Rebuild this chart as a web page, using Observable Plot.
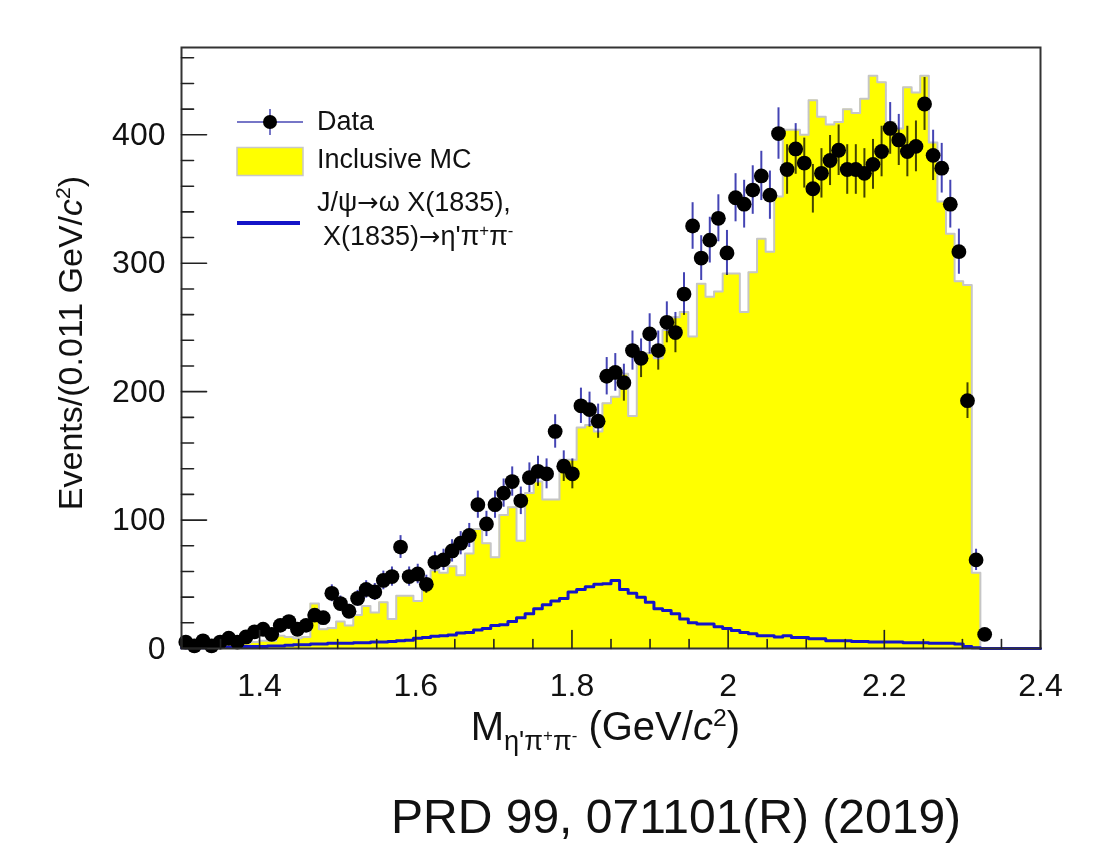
<!DOCTYPE html>
<html>
<head>
<meta charset="utf-8">
<script src="https://cdn.jsdelivr.net/npm/d3@7"></script>
<script src="https://cdn.jsdelivr.net/npm/@observablehq/plot@0.6"></script>
<style>
  html, body { margin: 0; padding: 0; background: #fff; }
  #wrap { position: relative; width: 1119px; height: 846px; overflow: hidden;
          font-family: "Liberation Sans", Arial, Helvetica, sans-serif; color: #111; }
  #chart { position: absolute; left: 0; top: 0; }
  .abs { position: absolute; white-space: nowrap; line-height: 1; }
  .leg { font-size: 27px; }
  .arr { font-family: "DejaVu Sans", sans-serif; font-size: 0.95em; }
  sup.s { font-size: 0.62em; vertical-align: 0.55em; line-height: 0; }
</style>
</head>
<body>
<div id="wrap">
  <div id="chart"></div>

  <!-- legend -->
  <svg class="abs" style="left:0;top:0" width="420" height="260">
    <line x1="237" x2="303" y1="122" y2="122" stroke="#4848b4" stroke-width="1.5"/>
    <line x1="270" x2="270" y1="109" y2="135" stroke="#4848b4" stroke-width="1.5"/>
    <circle cx="270" cy="122" r="7" fill="#000"/>
    <rect x="237" y="147.5" width="66" height="28" fill="#ffff00" stroke="#c8c8c8" stroke-width="1.5"/>
    <line x1="237" x2="300" y1="223" y2="223" stroke="#1414c8" stroke-width="4"/>
  </svg>
  <div class="abs leg" style="left:317px;top:108px">Data</div>
  <div class="abs leg" style="left:317px;top:146px">Inclusive MC</div>
  <div class="abs leg" style="left:317px;top:189px">J/ψ<span class="arr">→</span>ω X(1835),</div>
  <div class="abs leg" style="left:323px;top:223px">X(1835)<span class="arr">→</span>η'π<sup class="s">+</sup>π<sup class="s">-</sup></div>

  <!-- axis titles -->
  <div class="abs" style="left:70px;top:343px;font-size:34px;transform:translate(-50%,-50%) rotate(-90deg);">Events/(0.011 GeV/<i>c</i><sup class="s">2</sup>)</div>
  <div class="abs" style="left:740px;top:706px;font-size:40px;transform:translateX(-100%);">M<span style="font-size:0.68em;vertical-align:-0.38em;">η'π<sup class="s">+</sup>π<sup class="s">-</sup></span> (GeV/<i>c</i><sup class="s">2</sup>)</div>

  <!-- caption -->
  <div class="abs" style="left:391px;top:793px;font-size:48px;">PRD 99, 071101(R) (2019)</div>
</div>

<script>
// ---- binning: 100 bins of 0.011 GeV/c^2 from 1.3 to 2.4 ----
const binStart = 1.3;
const binWidth = 0.011;

// ---- Data (events per bin), bins 0..93 ----
const dataCounts = [
  5, 2, 6, 2, 5, 8, 5, 9, 13, 15,
  11, 18, 21, 15, 18, 26, 24, 43, 35, 29,
  39, 46, 44, 53, 56, 79, 56, 58, 50, 67,
  69, 76, 82, 88, 112, 97, 112, 121, 130, 115,
  133, 138, 136, 169, 142, 136, 189, 186, 177, 212,
  215, 207, 232, 226, 245, 232, 254, 246, 276, 329,
  304, 318, 335, 308, 351, 346, 357, 368, 353, 401,
  373, 389, 378, 358, 370, 380, 388, 373, 373, 370,
  377, 387, 405, 396, 387, 391, 424, 384, 374, 346,
  309, 193, 69, 11
];

// ---- Inclusive MC (yellow histogram), bins 0..99 ----
const mcCounts = [
  1, 1, 1, 2, 2, 3, 3, 4, 5, 6,
  6, 10, 9, 8, 9, 35, 15, 16, 21, 18,
  26, 33, 28, 36, 23, 41, 41, 37, 47, 61,
  59, 64, 57, 74, 93, 82, 71, 104, 110, 84,
  121, 130, 116, 116, 147, 147, 172, 174, 169, 191,
  196, 214, 181, 229, 230, 226, 248, 258, 262, 243,
  284, 274, 278, 292, 292, 262, 293, 319, 309, 352,
  404, 404, 400, 427, 414, 408, 410, 420, 417, 428,
  446, 441, 410, 405, 437, 433, 446, 394, 348, 323,
  286, 283, 59, 0, 0, 0, 0, 0, 0, 0
];

// ---- Signal MC J/psi -> omega X(1835) (blue histogram), bins 0..99 ----
const sigCounts = [
  0.5, 0.5, 0.5, 1, 1, 1, 1, 1.5, 1.5, 1.5,
  2, 2, 2.5, 3, 3, 3.5, 3.5, 4, 4, 4,
  4.5, 4.5, 5, 5, 5.5, 6, 6.5, 8, 8.5, 9.5,
  10, 10.5, 12, 12.5, 14.5, 15.5, 18, 18.5, 21, 24,
  27, 31, 34, 37, 39, 44, 46, 48, 50, 50.5,
  53, 46, 43, 40, 36, 31, 29.5, 27, 23, 20,
  19, 19, 17, 15.5, 14, 12.5, 11.5, 10, 10, 9,
  10, 8.5, 8.5, 7.5, 7.5, 6, 6, 6, 5.5, 5.5,
  5, 5, 5, 5, 4.5, 4.5, 4.5, 4, 4, 4,
  3.5, 1.5, 0.5, 0, 0, 0, 0, 0, 0, 0
];

// ---- axis ticks ----
const xMajor = [1.4, 1.6, 1.8, 2.0, 2.2, 2.4];
const xTickLabels = ["1.4", "1.6", "1.8", "2", "2.2", "2.4"];
const xMinor = [1.3, 1.35, 1.45, 1.5, 1.55, 1.65, 1.7, 1.75, 1.85, 1.9, 1.95, 2.05, 2.1, 2.15, 2.25, 2.3, 2.35];
const yMajor = [0, 100, 200, 300, 400];
const yMinor = [20, 40, 60, 80, 120, 140, 160, 180, 220, 240, 260, 280, 320, 340, 360, 380, 420, 440, 460];

// ---- tables built from the arrays ----
const dataRows = dataCounts.map((n, i) => ({
  x: binStart + (i + 0.5) * binWidth, n,
  lo: n - Math.sqrt(n), hi: n + Math.sqrt(n)   // Poisson errors
}));
const edge = (i) => binStart + i * binWidth;
const mcRows = mcCounts.map((v, i) => ({x: edge(i), v}))
  .concat([{x: edge(mcCounts.length), v: mcCounts[mcCounts.length - 1]}]);
const sigRows = sigCounts.map((v, i) => ({x: edge(i), v}))
  .concat([{x: edge(sigCounts.length), v: sigCounts[sigCounts.length - 1]}]);

const tickShape = {draw(context, l) { context.moveTo(0, 0); context.lineTo(0, -l); }};
const tickStyle = {stroke: "#222", strokeWidth: 1.6, anchor: "start", shape: tickShape};

const chart = Plot.plot({
  width: 1119,
  height: 846,
  marginLeft: 181,
  marginRight: 79,
  marginTop: 47,
  marginBottom: 198,
  x: {domain: [1.3, 2.4]},
  y: {domain: [0, 468]},
  style: {fontFamily: '"Liberation Sans", Arial, Helvetica, sans-serif', background: "white", color: "#111"},
  marks: [
    Plot.areaY(mcRows, {x: "x", y: "v", curve: "step-after", fill: "#ffff00"}),
    Plot.lineY(mcRows, {x: "x", y: "v", curve: "step-after", stroke: "#c6c6c6", strokeWidth: 2}),
    Plot.lineY(sigRows, {x: "x", y: "v", curve: "step-after", stroke: "#1414c8", strokeWidth: 3}),
    Plot.ruleX(dataRows, {x: "x", y1: "lo", y2: "hi", stroke: "#4444b4", strokeWidth: 2, mixBlendMode: "multiply"}),
    Plot.dot(dataRows, {x: "x", y: "n", r: 7.4, fill: "#000"}),
    Plot.frame({stroke: "#333", strokeWidth: 2}),
    Plot.vector(xMajor, {x: d => d, frameAnchor: "bottom", length: 18, rotate: 0, ...tickStyle}),
    Plot.vector(xMinor, {x: d => d, frameAnchor: "bottom", length: 9, rotate: 0, ...tickStyle}),
    Plot.vector(yMajor, {y: d => d, frameAnchor: "left", length: 25, rotate: 90, ...tickStyle}),
    Plot.vector(yMinor, {y: d => d, frameAnchor: "left", length: 12, rotate: 90, ...tickStyle}),
    Plot.axisX(xMajor, {
      tickSize: 0, tickPadding: 25, fontSize: 32, label: null,
      tickFormat: d => xTickLabels[xMajor.findIndex(v => Math.abs(v - d) < 1e-9)]
    }),
    Plot.axisY(yMajor, {tickSize: 0, tickPadding: 16, fontSize: 32, label: null})
  ]
});
document.getElementById("chart").appendChild(chart);
</script>
</body>
</html>
